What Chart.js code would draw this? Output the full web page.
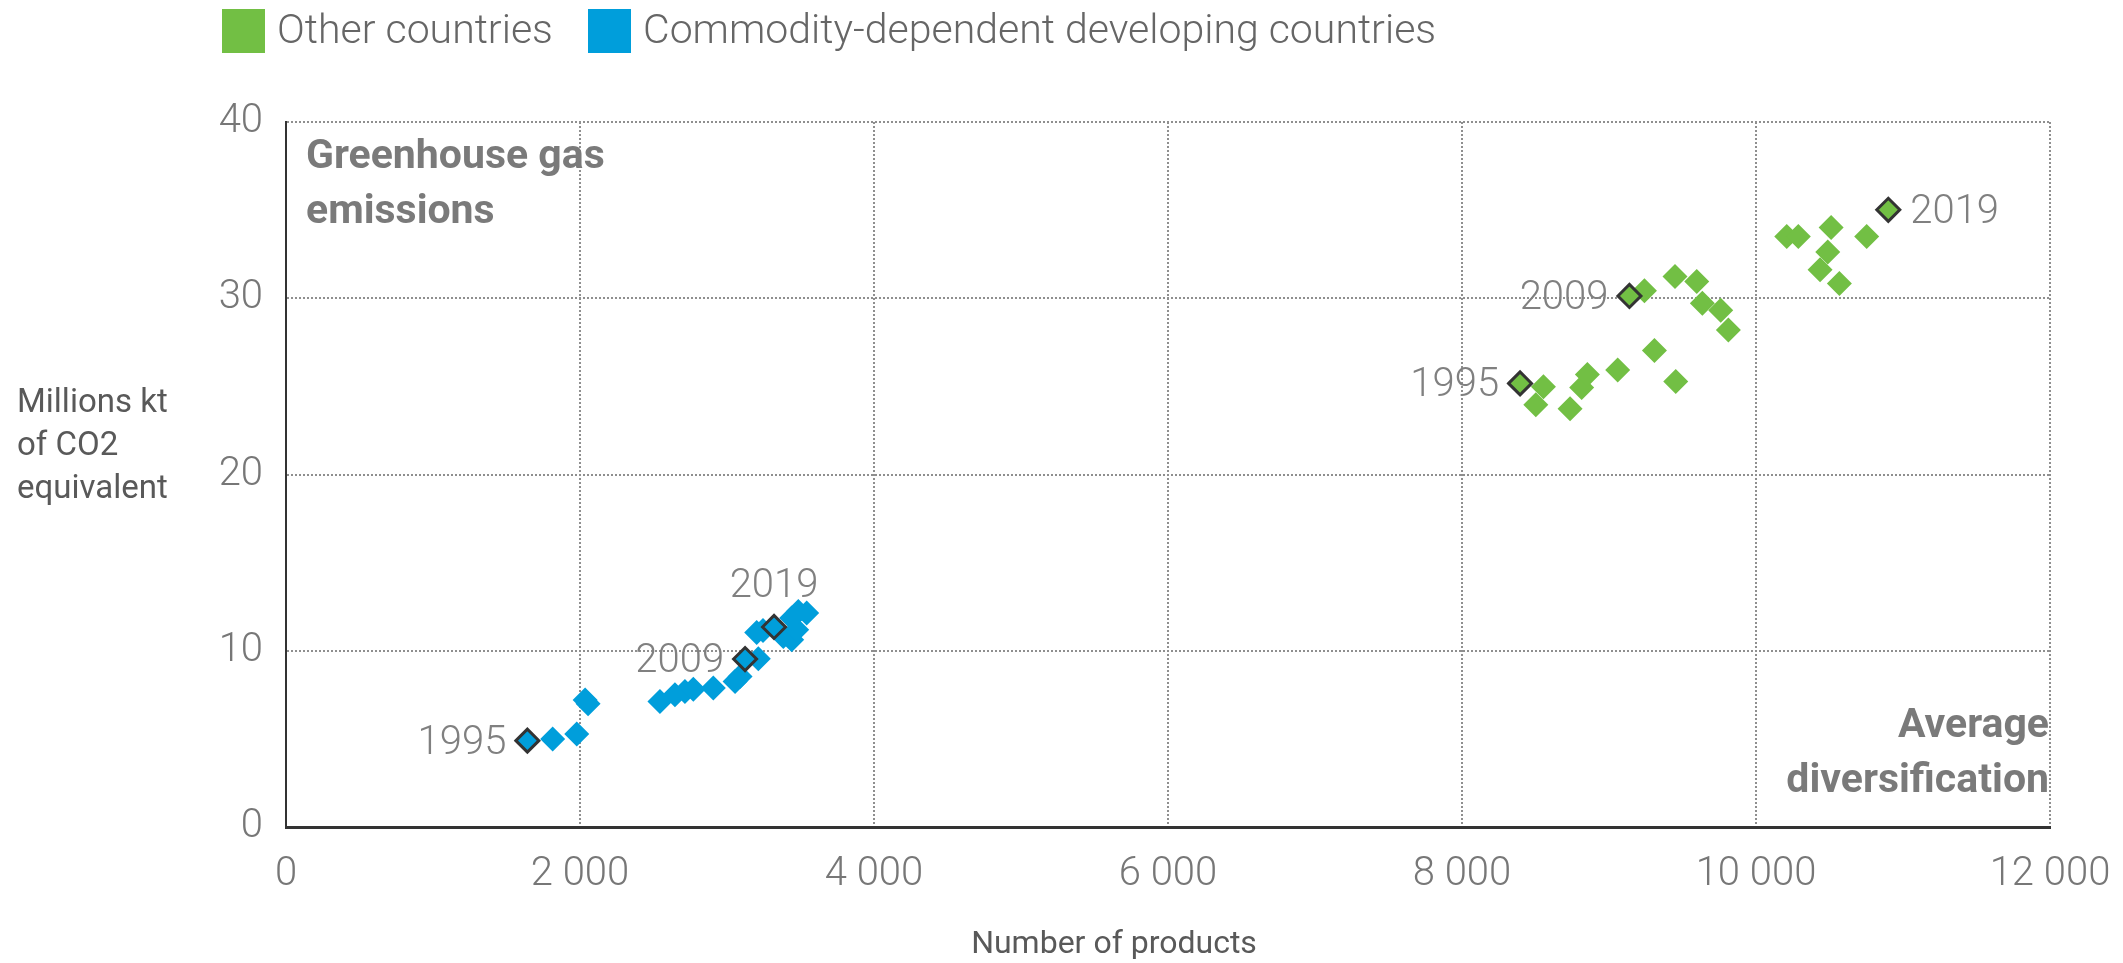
<!DOCTYPE html>
<html>
<head>
<meta charset="utf-8">
<title>Greenhouse gas emissions and diversification</title>
<script src="https://cdn.jsdelivr.net/npm/chart.js@4.4.1/dist/chart.umd.min.js"></script>
<style>
  html, body { margin: 0; padding: 0; background: #fff; }
  #wrap { position: relative; width: 2123px; height: 963px; }
  #chart { position: absolute; left: 0; top: 0; }
  .legend-item {
    position: absolute;
    top: 9px;
    display: flex;
    align-items: center;
    font-family: Roboto, "Open Sans", sans-serif;
    font-weight: 300;
    font-size: 41px;
    line-height: 44px;
    color: #666;
    white-space: nowrap;
  }
  .legend-item span { position: relative; top: -2px; }
  .swatch { width: 43px; height: 44px; margin-right: 12px; }
</style>
</head>
<body>
<div id="wrap">
  <canvas id="chart" width="2123" height="963"></canvas>
  <div class="legend-item" style="left:222px"><div class="swatch" style="background:#72bf44"></div><span>Other countries</span></div>
  <div class="legend-item" style="left:588px"><div class="swatch" style="background:#009edb"></div><span>Commodity-dependent developing countries</span></div>
</div>
<script>
// Other countries (number of products, millions kt CO2 eq.)
const greenX = [8395, 8554, 8502, 8735, 8814, 8853, 9059, 9309, 9454, 9241, 9449, 9597, 9635, 9760, 9812,
  10209, 10288, 10511, 10488, 10436, 10567, 10753];
const greenY = [25.17, 24.98, 23.96, 23.73, 24.93, 25.68, 25.93, 27.03, 25.28, 30.42, 31.23, 30.95, 29.72, 29.32, 28.2,
  33.5, 33.5, 34.01, 32.63, 31.61, 30.83, 33.5];

// Commodity-dependent developing countries
const blueX = [1814, 1978, 2035, 2055, 2544, 2646, 2714, 2771, 2907, 3055, 3089, 3213, 3202, 3245,
  3383, 3440, 3474, 3440, 3485, 3542];
const blueY = [5.0, 5.27, 7.2, 7.0, 7.12, 7.5, 7.69, 7.82, 7.88, 8.26, 8.54, 9.55, 11.04, 11.15,
  10.81, 10.63, 11.19, 11.86, 12.23, 12.14];

// highlighted years
const markYears = ["1995", "2009", "2019"];
const greenMarkX = [8395, 9139, 10900];
const greenMarkY = [25.17, 30.13, 35.02];
const blueMarkX = [1642, 3123, 3320];
const blueMarkY = [4.9, 9.53, 11.35];

const xTickLabels = ["0", "2 000", "4 000", "6 000", "8 000", "10 000", "12 000"];
const yTickLabels = ["0", "10", "20", "30", "40"];

const GREEN = "#72bf44";
const BLUE = "#009edb";
const FONT = "Roboto, 'Open Sans', sans-serif";

// where each year label sits relative to its marker
const blueLabelPlace = ["left", "left", "above"];
const greenLabelPlace = ["left", "left", "right"];

function toPoints(xs, ys) {
  return xs.map((x, i) => ({ x, y: ys[i] }));
}

function drawYearLabels(ctx, meta, places) {
  meta.data.forEach((pt, i) => {
    const place = places[i];
    if (place === "left") {
      ctx.textAlign = "right";
      ctx.fillText(markYears[i], pt.x - 21, pt.y + 13);
    } else if (place === "right") {
      ctx.textAlign = "left";
      ctx.fillText(markYears[i], pt.x + 22, pt.y + 13);
    } else {
      ctx.textAlign = "center";
      ctx.fillText(markYears[i], pt.x, pt.y - 30);
    }
  });
}

const annotations = {
  id: "annotations",
  afterDraw(chart) {
    const ctx = chart.ctx;
    const area = chart.chartArea;
    ctx.save();
    ctx.textBaseline = "alphabetic";

    // year labels
    ctx.font = "300 40px " + FONT;
    ctx.fillStyle = "#808080";
    drawYearLabels(ctx, chart.getDatasetMeta(2), blueLabelPlace);
    drawYearLabels(ctx, chart.getDatasetMeta(3), greenLabelPlace);

    // corner labels
    ctx.font = "bold 41px " + FONT;
    ctx.fillStyle = "#7a7a7a";
    ctx.textAlign = "left";
    ctx.fillText("Greenhouse gas", area.left + 20, area.top + 46);
    ctx.fillText("emissions", area.left + 20, area.top + 101);
    ctx.textAlign = "right";
    ctx.fillText("Average", area.right - 1, area.bottom - 90);
    ctx.fillText("diversification", area.right - 1, area.bottom - 35);

    // axis titles
    ctx.font = "400 33px " + FONT;
    ctx.fillStyle = "#595959";
    ctx.textAlign = "left";
    ctx.fillText("Millions kt", 17, 412);
    ctx.fillText("of CO2", 17, 455);
    ctx.fillText("equivalent", 17, 498);
    ctx.font = "400 32px " + FONT;
    ctx.textAlign = "center";
    ctx.fillText("Number of products", 1114, 953);
    ctx.restore();
  }
};

const gridStyle = { color: "#8f8f8f", lineWidth: 2, drawTicks: false };
const tickFont = { family: FONT, size: 40, weight: 300 };

new Chart(document.getElementById("chart"), {
  type: "scatter",
  data: {
    datasets: [
      {
        label: "Other countries",
        data: toPoints(greenX, greenY),
        pointStyle: "rectRot",
        pointRadius: 12.5,
        pointBackgroundColor: GREEN,
        pointBorderWidth: 0,
        order: 1
      },
      {
        label: "Commodity-dependent developing countries",
        data: toPoints(blueX, blueY),
        pointStyle: "rectRot",
        pointRadius: 12.5,
        pointBackgroundColor: BLUE,
        pointBorderWidth: 0,
        order: 1
      },
      {
        label: "Commodity-dependent developing countries (marked years)",
        data: toPoints(blueMarkX, blueMarkY),
        pointStyle: "rectRot",
        pointRadius: 11.5,
        pointBackgroundColor: BLUE,
        pointBorderColor: "#333",
        pointBorderWidth: 3,
        order: 0
      },
      {
        label: "Other countries (marked years)",
        data: toPoints(greenMarkX, greenMarkY),
        pointStyle: "rectRot",
        pointRadius: 11.5,
        pointBackgroundColor: GREEN,
        pointBorderColor: "#333",
        pointBorderWidth: 3,
        order: 0
      }
    ]
  },
  options: {
    responsive: false,
    animation: false,
    events: [],
    layout: { padding: { top: 122, right: 73, left: 0, bottom: 0 } },
    plugins: {
      legend: { display: false },
      tooltip: { enabled: false }
    },
    scales: {
      x: {
        type: "linear",
        min: 0,
        max: 12000,
        afterFit: (s) => {
          s.height = 136;
          s.paddingLeft = 0;
          s.paddingRight = 0;
        },
        ticks: {
          stepSize: 2000,
          autoSkip: false,
          maxRotation: 0,
          padding: 24,
          color: "#777",
          font: tickFont,
          callback: (v, i) => xTickLabels[i]
        },
        grid: gridStyle,
        border: { color: "#333", width: 3, dash: [2, 2] }
      },
      y: {
        min: 0,
        max: 40,
        afterFit: (s) => {
          s.width = 286;
          s.paddingTop = 0;
          s.paddingBottom = 0;
        },
        ticks: {
          stepSize: 10,
          padding: 23,
          color: "#777",
          font: tickFont,
          callback: (v, i) => yTickLabels[i]
        },
        grid: gridStyle,
        border: { color: "#333", width: 2, dash: [2, 2] }
      }
    }
  },
  plugins: [annotations]
});
</script>
</body>
</html>
